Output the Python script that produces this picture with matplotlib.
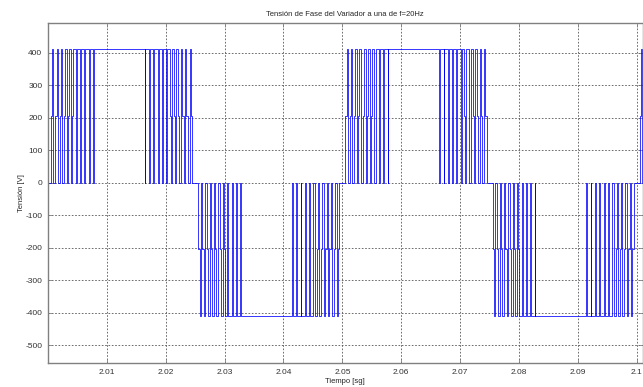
import numpy as np
import matplotlib
matplotlib.use('Agg')
import matplotlib.pyplot as plt

plt.rcParams['font.family'] = ['Liberation Sans', 'DejaVu Sans']
plt.rcParams['axes.unicode_minus'] = False

# Waveform data (times in s, voltages in V)
levels = [0, 205, 410]
cycle_starts = [2.0002, 2.0502, 2.1002]
half_period = 0.025
carrier = 0.00075
fall_offset = 0.0156

# rising PWM block (11 carrier periods): share of each period at 0 V and at 205 V
rise_zero = [0.40, 0.38, 0.36, 0.33, 0.30, 0.28, 0.26, 0.28, 0.22, 0.18, 0.12]
rise_mid = [0.35, 0.32, 0.30, 0.27, 0.24, 0.20, 0.16, 0.0, 0.0, 0.0, 0.0]
# falling PWM block (12 carrier periods)
fall_zero = [0.12, 0.16, 0.20, 0.24, 0.27, 0.30, 0.26, 0.28, 0.32, 0.35, 0.38, 0.42]
fall_mid = [0.0, 0.0, 0.0, 0.0, 0.0, 0.0, 0.18, 0.22, 0.26, 0.30, 0.32, 0.35]

xticks = [2.01, 2.02, 2.03, 2.04, 2.05, 2.06, 2.07, 2.08, 2.09, 2.1]
xticklabels = ['2.01', '2.02', '2.03', '2.04', '2.05', '2.06', '2.07', '2.08', '2.09', '2.1']
yticks = [-500, -400, -300, -200, -100, 0, 100, 200, 300, 400]

# build step points
t_pts = [2.0]
v_pts = [0]
for c0 in cycle_starts:
    for h, sign in ((0, 1), (1, -1)):
        t0 = c0 + h * half_period
        lo, mid, hi = (sign * lv for lv in levels)
        for k in range(len(rise_zero)):
            ts = t0 + k * carrier
            t_pts.append(ts); v_pts.append(lo)
            if rise_mid[k] > 0:
                t_pts.append(ts + rise_zero[k] * carrier); v_pts.append(mid)
            t_pts.append(ts + (rise_zero[k] + rise_mid[k]) * carrier); v_pts.append(hi)
        tb = t0 + fall_offset
        for k in range(len(fall_zero)):
            ts = tb + k * carrier
            t_pts.append(ts); v_pts.append(hi)
            if fall_mid[k] > 0:
                t_pts.append(ts + (1 - fall_zero[k] - fall_mid[k]) * carrier); v_pts.append(mid)
            t_pts.append(ts + (1 - fall_zero[k]) * carrier); v_pts.append(lo)
t_pts.append(2.11); v_pts.append(v_pts[-1])

fig = plt.figure(figsize=(6.43, 3.87), dpi=100, facecolor='white')
ax = fig.add_axes([0.0745, 0.062, 0.925, 0.8786])
ax.step(t_pts, v_pts, where='post', color='#0000ff', linewidth=0.55)

ax.set_xlim(2.0, 2.101)
ax.set_ylim(-555, 491)
ax.set_xticks(xticks)
ax.set_xticklabels(xticklabels)
ax.set_yticks(yticks)
ax.grid(True, linestyle=(0, (2, 2)), color='#555555', linewidth=0.6)
ax.tick_params(direction='in', top=True, right=True, length=3, width=0.6,
               colors='#808080', labelcolor='#333333', labelsize=6, pad=4)
for s in ax.spines.values():
    s.set_color('#808080')
    s.set_linewidth(1.0)

ax.set_title('Tensión de Fase del Variador a una de f=20Hz', fontsize=5.5, color='#262626', pad=5)
ax.set_xlabel('Tiempo [sg]', fontsize=5.5, color='#262626', labelpad=2)
ax.set_ylabel('Tensión [V]', fontsize=5.5, color='#262626', labelpad=0)

fig.savefig('out.png', dpi=100)
